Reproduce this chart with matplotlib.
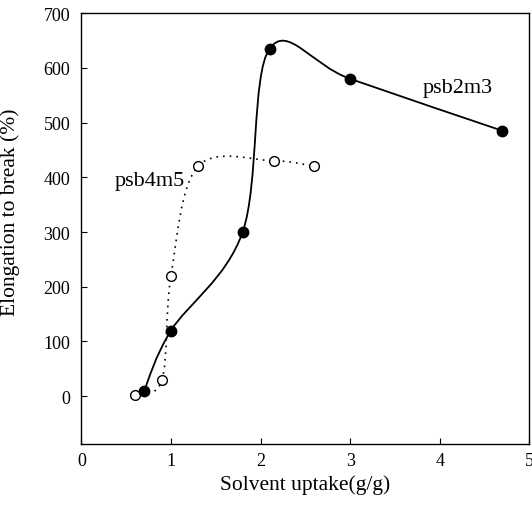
import matplotlib
matplotlib.use("Agg")
import matplotlib.pyplot as plt
import numpy as np
from matplotlib.path import Path
from matplotlib.patches import PathPatch

plt.rcParams['font.family'] = ['Liberation Serif', 'DejaVu Serif']

# data
uptake_b2 = [0.7, 1.0, 1.8, 2.1, 3.0, 4.7]
elong_b2 = [10, 120, 300, 635, 580, 485]
uptake_b4 = [0.6, 0.9, 1.0, 1.3, 2.15, 2.6]
elong_b4 = [3, 30, 220, 420, 430, 420]
x_ticks = [0, 1, 2, 3, 4, 5]
y_ticks = [0, 100, 200, 300, 400, 500, 600, 700]


def smooth_path(xs, ys):
    # Catmull-Rom style bezier through the points (like a "smoothed line" chart)
    p = np.column_stack([xs, ys]).astype(float)
    n = len(p)
    verts = [p[0]]
    codes = [Path.MOVETO]
    for i in range(n - 1):
        prev = p[i - 1] if i > 0 else p[i]
        nxt = p[i + 2] if i + 2 < n else p[i + 1]
        c1 = p[i] + (p[i + 1] - prev) / 6
        c2 = p[i + 1] - (nxt - p[i]) / 6
        verts += [c1, c2, p[i + 1]]
        codes += [Path.CURVE4] * 3
    return Path(verts, codes)


fig = plt.figure(figsize=(5.32, 5.06), dpi=100)
ax = fig.add_axes([0.153, 0.121, 0.842, 0.851])

ax.add_patch(PathPatch(smooth_path(uptake_b4, elong_b4), fill=False,
                       edgecolor='black', lw=1.2, linestyle=(0, (1, 3))))
ax.add_patch(PathPatch(smooth_path(uptake_b2, elong_b2), fill=False,
                       edgecolor='black', lw=1.3))

ax.plot(uptake_b4, elong_b4, 'o', ms=7, mfc='white', mec='black', mew=1.0, zorder=3)
ax.plot(uptake_b2, elong_b2, 'o', ms=7.5, mfc='black', mec='black', zorder=4)

ax.text(3.81, 565, 'psb2m3', fontsize=16, va='center', ha='left')
ax.text(0.37, 394, 'psb4m5', fontsize=16, va='center', ha='left')

ax.set_xlim(0, 5)
ax.set_ylim(-87, 700)
ax.set_xticks(x_ticks)
ax.set_yticks(y_ticks)
ax.tick_params(axis='both', direction='in', length=4, labelsize=13)
ax.tick_params(axis='x', pad=6)
ax.tick_params(axis='y', pad=8)
for s in ax.spines.values():
    s.set_linewidth(1.0)

ax.set_xlabel('Solvent uptake(g/g)', fontsize=15.5)
ax.set_ylabel('Elongation to break (%)', fontsize=15.5)
ax.yaxis.set_label_coords(-0.137, 0.54)

fig.savefig('out.png', dpi=100)
